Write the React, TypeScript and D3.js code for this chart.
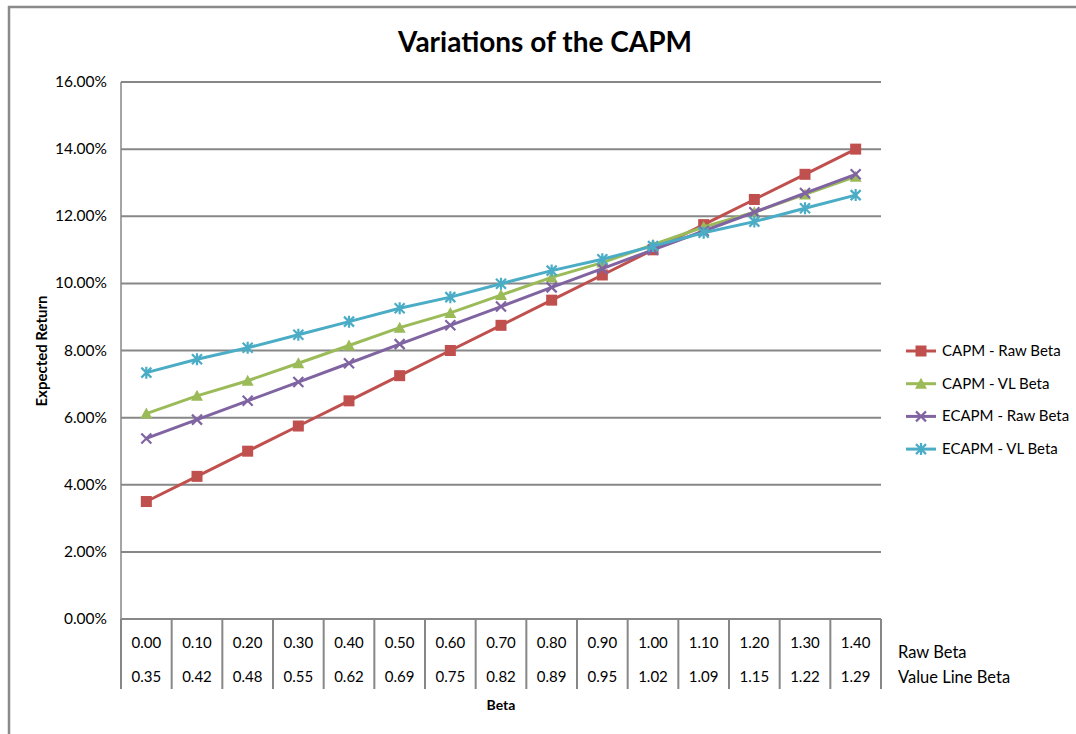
import React from 'react';
import * as d3 from 'd3';

const rawBeta = ['0.00', '0.10', '0.20', '0.30', '0.40', '0.50', '0.60', '0.70', '0.80', '0.90', '1.00', '1.10', '1.20', '1.30', '1.40'];
const vlBeta = ['0.35', '0.42', '0.48', '0.55', '0.62', '0.69', '0.75', '0.82', '0.89', '0.95', '1.02', '1.09', '1.15', '1.22', '1.29'];

const capmRaw = [3.5, 4.25, 5.0, 5.75, 6.5, 7.25, 8.0, 8.75, 9.5, 10.25, 11.0, 11.75, 12.5, 13.25, 14.0];
const capmVL = [6.12, 6.65, 7.1, 7.62, 8.15, 8.68, 9.12, 9.65, 10.18, 10.62, 11.15, 11.68, 12.12, 12.65, 13.18];
const ecapmRaw = [5.38, 5.94, 6.5, 7.06, 7.62, 8.19, 8.75, 9.31, 9.88, 10.44, 11.0, 11.56, 12.12, 12.69, 13.25];
const ecapmVL = [7.34, 7.74, 8.08, 8.47, 8.86, 9.26, 9.59, 9.99, 10.38, 10.72, 11.11, 11.51, 11.84, 12.24, 12.63];

const yTicks = [0, 2, 4, 6, 8, 10, 12, 14, 16];

const series = [
  { name: 'CAPM - Raw Beta', values: capmRaw, color: '#C0504D', marker: 'square' },
  { name: 'CAPM - VL Beta', values: capmVL, color: '#9BBB59', marker: 'triangle' },
  { name: 'ECAPM - Raw Beta', values: ecapmRaw, color: '#8064A2', marker: 'x' },
  { name: 'ECAPM - VL Beta', values: ecapmVL, color: '#4BACC6', marker: 'star' },
];

const W = 1076;
const H = 734;
const left = 121;
const right = 881;
const top = 82;
const bottom = 619;
const font = 'Lato, "Open Sans", sans-serif';
const gridColor = '#878787';

function Marker({ type, x, y, color }: { type: string; x: number; y: number; color: string }) {
  if (type === 'square') {
    return <rect x={x - 5.5} y={y - 5.5} width={11} height={11} fill={color} />;
  }
  if (type === 'triangle') {
    return <path d={`M${x},${y - 6}L${x + 6},${y + 5}L${x - 6},${y + 5}Z`} fill={color} />;
  }
  const s = 5;
  const xPath = `M${x - s},${y - s}L${x + s},${y + s}M${x - s},${y + s}L${x + s},${y - s}`;
  if (type === 'x') {
    return <path d={xPath} stroke={color} strokeWidth={2.2} fill="none" />;
  }
  return <path d={`${xPath}M${x},${y - s - 1}L${x},${y + s + 1}`} stroke={color} strokeWidth={2.2} fill="none" />;
}

export default function App() {
  const x = d3.scaleBand<string>().domain(rawBeta).range([left, right]);
  const y = d3.scaleLinear().domain([0, 16]).range([bottom, top]);
  const cx = (i: number) => (x(rawBeta[i]) as number) + x.bandwidth() / 2;
  const line = d3.line<number>().x((_, i) => cx(i)).y(d => y(d));
  const fmt = (v: number) => `${v.toFixed(2)}%`;

  return (
    <svg width={W} height={H} style={{ position: 'absolute', left: 0, top: 0, background: '#fff' }} fontFamily={font}>
      {/* outer chart frame */}
      <path d={`M9,${H}L9,7L${W},7`} stroke="#8a8a8a" strokeWidth={2.5} fill="none" />

      <text x={545} y={52} textAnchor="middle" fontSize={28} fontWeight="bold" fill="#000">Variations of the CAPM</text>

      {/* gridlines */}
      {yTicks.map(t => (
        <g key={t}>
          <line x1={left} x2={right} y1={y(t)} y2={y(t)} stroke={gridColor} strokeWidth={2} />
          <text x={107} y={y(t) + 5} textAnchor="end" fontSize={15.5} fill="#000">{fmt(t)}</text>
        </g>
      ))}
      <line x1={left} x2={left} y1={top} y2={bottom} stroke={gridColor} strokeWidth={1.5} />

      {/* data table under axis */}
      {rawBeta.map((b, i) => (
        <line key={'v' + i} x1={x(b) as number} x2={x(b) as number} y1={bottom} y2={689} stroke={gridColor} strokeWidth={2} />
      ))}
      <line x1={right} x2={right} y1={bottom} y2={689} stroke={gridColor} strokeWidth={2} />
      {rawBeta.map((b, i) => (
        <g key={'t' + i}>
          <text x={cx(i)} y={648} textAnchor="middle" fontSize={15} fill="#000">{b}</text>
          <text x={cx(i)} y={682} textAnchor="middle" fontSize={15} fill="#000">{vlBeta[i]}</text>
        </g>
      ))}
      <text x={898} y={658} fontSize={16.5} fill="#000">Raw Beta</text>
      <text x={898} y={683} fontSize={16.5} fill="#000">Value Line Beta</text>
      <text x={501} y={710} textAnchor="middle" fontSize={14} fontWeight="bold" fill="#000">Beta</text>
      <text transform="translate(47,351) rotate(-90)" textAnchor="middle" fontSize={15} fontWeight="bold" fill="#000">Expected Return</text>

      {/* series */}
      {series.map(s => (
        <g key={s.name}>
          <path d={line(s.values) as string} fill="none" stroke={s.color} strokeWidth={3} />
          {s.values.map((v, i) => (
            <Marker key={i} type={s.marker} x={cx(i)} y={y(v)} color={s.color} />
          ))}
        </g>
      ))}

      {/* legend */}
      {series.map((s, i) => {
        const ly = 351 + i * 32.7;
        return (
          <g key={'l' + s.name}>
            <line x1={906} x2={936} y1={ly} y2={ly} stroke={s.color} strokeWidth={3} />
            <Marker type={s.marker} x={921} y={ly} color={s.color} />
            <text x={942} y={ly + 5} fontSize={15} fill="#000">{s.name}</text>
          </g>
        );
      })}
    </svg>
  );
}
